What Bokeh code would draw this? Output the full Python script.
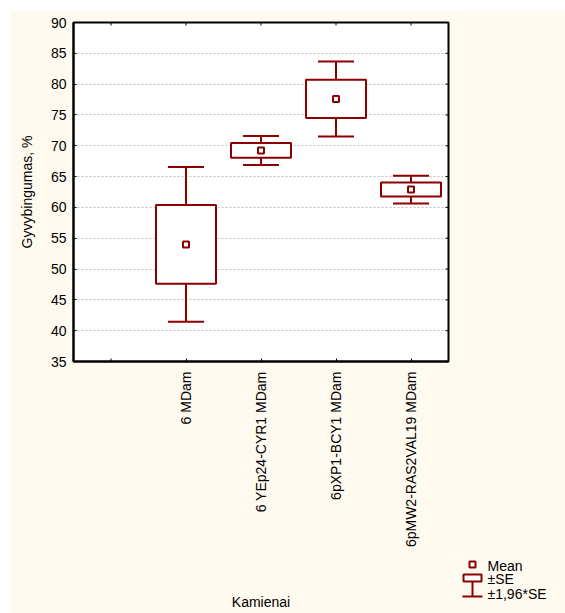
import math
from bokeh.plotting import figure
from bokeh.models import Range1d, FixedTicker, Spacer
from bokeh.layouts import row, column
from bokeh.embed import file_html
from bokeh.resources import INLINE
from bokeh.core.properties import value

# ---- data ----
categories = ["6 MDam", "6 YEp24-CYR1 MDam", "6pXP1-BCY1 MDam", "6pMW2-RAS2VAL19 MDam"]
means = [54.0, 69.25, 77.6, 62.9]
se = [6.4, 1.2, 3.1, 1.15]
y_ticks = [35, 40, 45, 50, 55, 60, 65, 70, 75, 80, 85, 90]
legend_labels = ["Mean", "\u00b1SE", "\u00b11,96*SE"]

xpos = list(range(1, len(categories) + 1))
se_lo = [m - s for m, s in zip(means, se)]
se_hi = [m + s for m, s in zip(means, se)]
ci_lo = [m - 1.96 * s for m, s in zip(means, se)]
ci_hi = [m + 1.96 * s for m, s in zip(means, se)]

RED = "#8B0000"
CREAM = "#FFFAF0"
FONT = "Liberation Sans"
FS = "14px"

MARGIN = 10
FL, FR, FT = 73, 448, 22          # frame edges on the page
H = 613 - MARGIN
PW = FR + 4 - MARGIN              # main figure width
LW = 565 - MARGIN - PW            # legend panel width
LEG_TOP = 553                     # legend panel top on the page
LH = H - (LEG_TOP - MARGIN)       # legend panel height

X0, X1 = -0.5, len(categories) + 0.5
Y0, Y1 = y_ticks[0], y_ticks[-1]

p = figure(width=PW, height=H,
           x_range=Range1d(X0, X1), y_range=Range1d(Y0, Y1),
           output_backend="svg", toolbar_location=None,
           min_border_left=FL - MARGIN, min_border_top=FT - MARGIN,
           min_border_right=4, min_border_bottom=10,
           background_fill_color="white", border_fill_color=CREAM,
           outline_line_color="black", outline_line_width=2)

xax = p.below[0]
yax = p.left[0]
xax.ticker = FixedTicker(ticks=xpos)
xax.major_label_overrides = {xp: c for xp, c in zip(xpos, categories)}
xax.major_label_orientation = math.pi / 2
xax.major_label_standoff = 10
xax.axis_label = "Kamienai"
xax.axis_label_standoff = 44

yax.ticker = FixedTicker(ticks=y_ticks)
yax.major_label_standoff = 7
yax.axis_label = "Gyvybingumas, %"
yax.axis_label_standoff = 13

for ax in (xax, yax):
    ax.major_tick_in = 3
    ax.major_tick_out = 0
    ax.minor_tick_in = 0
    ax.minor_tick_out = 0
    ax.axis_line_width = 2
    ax.axis_line_color = "black"
    ax.major_tick_line_color = "black"
    ax.major_label_text_font = FONT
    ax.major_label_text_font_size = FS
    ax.major_label_text_color = "black"
    ax.axis_label_text_font = FONT
    ax.axis_label_text_font_size = FS
    ax.axis_label_text_font_style = "normal"
    ax.axis_label_text_color = "black"

p.xgrid.visible = False
p.ygrid.grid_line_color = "#c0c0c0"
p.ygrid.grid_line_dash = "2 2"
p.ygrid.grid_line_width = 1

# inner tick marks on the frame edges (half of each dash is clipped by the frame)
all_xt = [xpos[0] - 1] + xpos + [xpos[-1] + 1]
p.scatter(x=all_xt, y=[Y1] * len(all_xt), marker="dash", angle=math.pi / 2,
          size=6, line_color="black", line_width=1)
p.scatter(x=[all_xt[0], all_xt[-1]], y=[Y0, Y0], marker="dash", angle=math.pi / 2,
          size=6, line_color="black", line_width=1)
p.scatter(x=[X1] * len(y_ticks), y=y_ticks, marker="dash",
          size=6, line_color="black", line_width=1)

# whisker stems
p.segment(x0=xpos, y0=se_hi, x1=xpos, y1=ci_hi, line_color=RED, line_width=2)
p.segment(x0=xpos, y0=se_lo, x1=xpos, y1=ci_lo, line_color=RED, line_width=2)
# caps
p.scatter(x=xpos, y=ci_hi, marker="dash", size=36, line_color=RED, line_width=2)
p.scatter(x=xpos, y=ci_lo, marker="dash", size=36, line_color=RED, line_width=2)
# SE boxes
p.vbar(x=xpos, width=0.8, bottom=se_lo, top=se_hi, fill_color="white",
       line_color=RED, line_width=2)
# means
p.scatter(x=xpos, y=means, marker="square", size=6, fill_color="white",
          line_color=RED, line_width=2)

# ---- legend panel (pixel coordinates inside the small panel) ----
lf = figure(width=LW, height=LH, x_range=Range1d(0, LW), y_range=Range1d(LH, 0),
            output_backend="svg", toolbar_location=None,
            x_axis_type=None, y_axis_type=None, min_border=0,
            background_fill_color=CREAM, border_fill_color=CREAM,
            outline_line_color=None)
lf.grid.visible = False
lf.scatter(x=[20], y=[11], marker="square", size=6, fill_color="white",
           line_color=RED, line_width=2)
lf.quad(left=[11], right=[29], top=[21], bottom=[28], fill_color="white",
        line_color=RED, line_width=2)
lf.segment(x0=[20], y0=[28], x1=[20], y1=[43], line_color=RED, line_width=2)
lf.segment(x0=[10], y0=[43], x1=[30], y1=[43], line_color=RED, line_width=2)
lf.text(x=[35, 35, 35], y=[12, 25, 40], text=legend_labels,
        text_baseline="middle", text_align="left",
        text_font=value(FONT), text_font_size=FS, text_color="black")

right_col = column(Spacer(width=LW, height=H - LH, background=CREAM), lf)
layout = row(p, right_col)
layout.margin = (MARGIN, 0, 0, MARGIN)
open("out.html", "w").write(file_html(layout, INLINE))
